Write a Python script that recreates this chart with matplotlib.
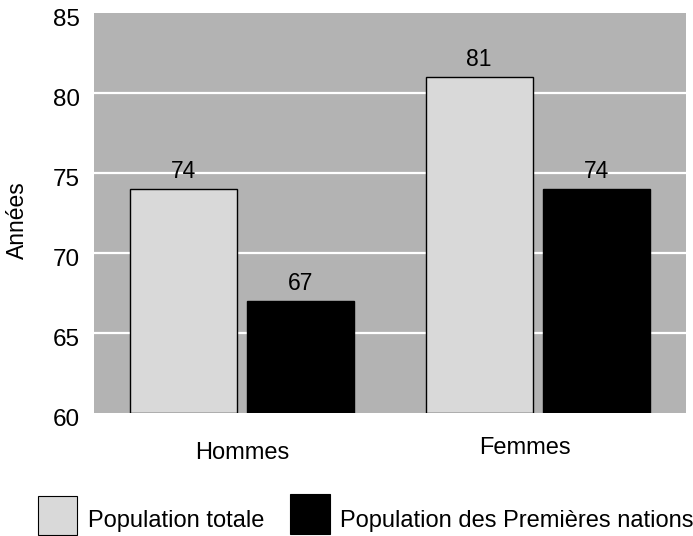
import matplotlib
matplotlib.use("Agg")
import matplotlib.pyplot as plt
from matplotlib.patches import Rectangle
import matplotlib.transforms as mtransforms

plt.rcParams['font.family'] = ['Liberation Sans', 'DejaVu Sans']

categories = ["Hommes", "Femmes"]
series_names = ["Population totale", "Population des Premières nations"]
totale = [74, 81]
premieres_nations = [67, 74]
yticks = [60, 65, 70, 75, 80, 85]

fig = plt.figure(figsize=(6.93, 5.36), dpi=100)
ax = fig.add_axes([94 / 693, 1 - 413 / 536, 592 / 693, 400 / 536])
ax.set_facecolor("#b3b3b3")

width = 0.361
offset = 0.199
x = [0, 1]

for i, (v1, v2) in enumerate(zip(totale, premieres_nations)):
    ax.bar(x[i] - offset, v1 - 60, bottom=60, width=width, color="#d9d9d9",
           edgecolor="black", linewidth=1.0, zorder=3)
    ax.bar(x[i] + offset, v2 - 60, bottom=60, width=width, color="black",
           edgecolor="black", linewidth=1.0, zorder=3)
    ax.text(x[i] - offset, v1 + 0.35, str(v1), ha="center", va="bottom", fontsize=16.5, zorder=4)
    ax.text(x[i] + offset, v2 + 0.35, str(v2), ha="center", va="bottom", fontsize=16.5, zorder=4)

ax.set_xlim(-0.5, 1.5)
ax.set_ylim(60, 85)
ax.set_yticks(yticks)
ax.set_yticklabels([str(t) for t in yticks], fontsize=17.5)
ax.tick_params(axis="y", length=0, pad=10)
shift = mtransforms.ScaledTranslation(0, -4 / 100, fig.dpi_scale_trans)
for lbl in ax.get_yticklabels():
    lbl.set_transform(lbl.get_transform() + shift)
ax.set_xticks([])
for ycoord in yticks[1:-1]:
    ax.axhline(ycoord, color="white", linewidth=1.6, zorder=1)
for s in ax.spines.values():
    s.set_visible(False)

fig.text(17 / 693, 1 - 220 / 536, "Années", rotation=90, ha="center", va="center", fontsize=16.5)

trans = mtransforms.blended_transform_factory(ax.transData, fig.transFigure)
ax.text(x[0], 1 - 453 / 536, categories[0], ha="center", va="center", fontsize=17, transform=trans)
ax.text(x[1] - 0.045, 1 - 448 / 536, categories[1], ha="center", va="center", fontsize=17, transform=trans)

# legend drawn as figure-level patches and labels
fig.patches.append(Rectangle((38 / 693, 1 - 535 / 536), 39 / 693, 39 / 536, transform=fig.transFigure,
                             facecolor="#d9d9d9", edgecolor="black", linewidth=0.8))
fig.text(88 / 693, 1 - 521 / 536, series_names[0], ha="left", va="center", fontsize=17)
fig.patches.append(Rectangle((290 / 693, 1 - 534 / 536), 40 / 693, 40 / 536, transform=fig.transFigure,
                             facecolor="black", edgecolor="black", linewidth=0.8))
fig.text(340 / 693, 1 - 521 / 536, series_names[1], ha="left", va="center", fontsize=17)

fig.savefig("out.png", dpi=100, facecolor="white")
